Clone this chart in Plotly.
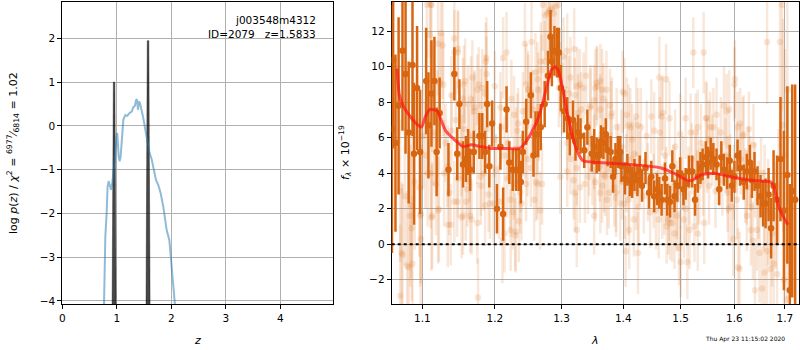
import plotly.graph_objects as go

# ---------------- left panel: p(z) ----------------
pz_z = [0.765,0.789,0.813,0.83,0.85,0.875,0.893,0.917,0.936,0.966,0.997,1.009,1.034,1.052,1.07,1.095,
        1.119,1.156,1.193,1.23,1.272,1.303,1.333,1.352,1.37,1.388,1.407,1.425,1.456,1.486,1.523,1.56,
        1.596,1.639,1.682,1.719,1.761,1.804,1.853,1.914,1.963,2.0,2.037,2.067]
pz_logp = [-4.1,-2.53,-2.0,-1.39,-1.26,-1.39,-1.46,-1.30,-1.08,-0.70,-0.18,-0.17,-0.70,-0.81,-0.70,-0.17,
           0.14,0.25,0.23,0.29,0.33,0.43,0.46,0.59,0.61,0.37,0.56,0.52,0.37,0.18,-0.09,-0.36,
           -0.59,-0.76,-1.0,-1.24,-1.35,-1.54,-1.85,-2.38,-2.61,-3.14,-3.60,-4.1]

spike1_z = [0.913, 0.936, 0.964, 0.987]
spike1_logp = [-4.1, 1.0, 1.0, -4.1]
spike2_z = [1.535, 1.558, 1.587, 1.610]
spike2_logp = [-4.1, 1.95, 1.95, -4.1]

left_xticks = [0, 1, 2, 3, 4]
left_yticks = [-4, -3, -2, -1, 0, 1, 2]

# ---------------- right panel: spectrum ----------------
dark_lam = [1.0605,1.062,1.065,1.069,1.074,1.078,1.082,1.087,1.089,1.093,
            1.097,1.105,1.108,1.112,1.116,1.119,1.123,1.135,1.143,1.147,
            1.150,1.155,1.159,1.162,1.165,1.170,1.178,1.182,1.186,1.189,
            1.192,1.196,1.203,1.208,1.212,1.217,1.221,1.226,1.231,1.235,
            1.238,1.241,1.246,1.253,1.257,1.260,1.264,1.268,1.274,1.279,
            1.283,1.285,1.289,1.293,1.296,1.299,1.304,1.309,1.313,1.318,
            1.322,1.326,1.330,1.336,1.341,1.348,1.352,1.356,1.360,1.363,
            1.367,1.371,1.374,1.379,1.383,1.387,1.391,1.395,1.397,1.403,
            1.407,1.411,1.415,1.419,1.424,1.428,1.432,1.438,1.444,1.448,
            1.453,1.458,1.462,1.466,1.472,1.476,1.481,1.485,1.489,1.494,
            1.499,1.505,1.509,1.515,1.521,1.526,1.531,1.536,1.540,1.546,
            1.550,1.555,1.560,1.566,1.571,1.575,1.580,1.586,1.591,1.595,
            1.600,1.606,1.611,1.618,1.624,1.630,1.634,1.639,1.645,1.651,
            1.656,1.661,1.667,1.672,1.677,1.684,1.691,1.698,1.705,1.710,
            1.715,1.721]
dark_flux = [6.5,10.4,5.7,7.8,10.9,9.6,6.3,10.1,5.1,8.8,
             5.2,9.2,6.7,8.5,9.2,5.2,7.4,4.2,9.6,5.1,
             7.9,4.5,4.8,5.2,4.2,5.2,6.1,6.1,5.2,7.9,
             4.4,6.8,2.0,5.5,1.7,7.6,4.6,4.2,4.2,4.2,
             3.5,5.2,6.9,8.4,5.0,6.2,6.2,6.6,7.9,9.5,
             11.7,10.3,10.9,10.8,10.8,8.8,7.5,7.1,6.1,7.0,
             5.8,6.3,6.1,5.3,6.6,5.1,5.5,5.0,5.0,5.8,
             5.7,6.2,5.3,5.2,3.8,4.8,5.2,5.2,4.4,3.7,
             4.2,3.6,3.5,3.9,3.6,4.1,3.3,4.3,2.9,3.8,
             2.7,3.1,2.9,2.5,3.7,2.5,2.4,4.4,2.7,3.3,
             4.0,3.1,3.4,4.1,4.1,2.5,3.8,4.3,4.5,4.9,
             4.6,5.1,4.8,4.5,3.1,4.9,4.2,4.0,4.7,3.3,
             3.8,5.0,4.3,3.5,4.1,4.6,3.6,4.1,3.3,2.7,
             2.3,2.3,2.8,0.9,3.3,2.5,4.8,1.9,3.9,-2.6,
             3.0,2.5]
dark_err = [7.0,5.0,5.0,5.0,4.5,4.5,4.0,4.0,4.0,3.5,
            3.5,3.0,3.0,3.0,2.5,2.5,2.0,1.5,1.5,1.5,
            1.4,1.3,1.3,1.3,1.2,1.2,1.3,1.3,1.2,1.3,
            1.2,1.3,1.4,1.3,1.5,1.3,1.2,1.2,1.2,1.2,
            1.2,1.2,1.3,1.3,1.2,1.3,1.3,1.3,1.3,1.4,
            1.5,1.4,1.4,1.4,1.4,1.3,1.2,1.2,1.1,1.1,
            1.1,1.0,1.0,1.0,1.0,1.0,1.0,1.0,0.9,0.9,
            0.9,0.9,0.9,0.9,0.9,0.9,0.9,0.9,0.9,0.9,
            0.9,0.9,0.9,0.9,0.9,0.9,0.9,0.9,0.9,0.9,
            0.9,0.9,0.9,0.9,0.9,0.9,0.9,0.9,0.9,0.9,
            0.9,0.9,0.9,0.9,0.9,0.9,0.9,0.9,0.9,0.9,
            0.9,0.9,0.9,0.9,0.9,0.9,0.9,0.9,0.9,0.9,
            0.9,0.9,1.0,1.0,1.0,1.0,1.0,1.1,1.1,1.2,
            1.3,1.4,1.5,1.7,2.0,2.5,3.5,4.5,5.0,6.0,
            6.0,6.5]

light_lam = [1.073,1.080,1.087,1.071,1.086,1.098,1.111,1.125,1.121,1.127,
             1.143,1.148,1.110,1.128,1.113,1.139,1.158,1.155,1.177,1.182,
             1.188,1.180,1.186,1.166,1.171,1.147,1.138,1.155,1.165,1.159,
             1.175,1.176,1.161,1.136,1.122,1.113,1.097,1.085,1.077,1.084,
             1.090,1.096,1.104,1.111,1.118,1.129,1.134,1.148,1.164,1.180,
             1.186,1.193,1.198,1.206,1.211,1.217,1.224,1.228,1.226,1.223,
             1.230,1.235,1.239,1.241,1.244,1.246,1.249,1.254,1.256,1.261,
             1.263,1.265,1.270,1.267,1.260,1.264,1.269,1.274,1.278,1.281,
             1.285,1.288,1.291,1.295,1.298,1.303,1.307,1.312,1.320,1.325,
             1.331,1.335,1.339,1.344,1.346,1.352,1.357,1.362,1.367,1.372,
             1.378,1.381,1.388,1.395,1.399,1.402,1.406,1.412,1.419,1.425,
             1.430,1.440,1.448,1.453,1.462,1.463,1.468,1.472,1.478,1.481,
             1.485,1.489,1.497,1.506,1.509,1.512,1.518,1.525,1.531,1.537,
             1.542,1.546,1.554,1.560,1.566,1.574,1.580,1.585,1.589,1.594,
             1.598,1.601,1.606,1.610,1.618,1.624,1.631,1.636,1.644,1.654,
             1.658,1.664,1.671,1.677,1.684,1.690,1.694,1.698,1.704,1.705,
             1.189,1.199,1.209,1.214,1.219,1.231,1.234,1.238,1.248,1.131,
             1.139,1.145,1.152,1.157,1.163,1.169,1.175,1.184,1.101,1.107,
             1.115,1.120,1.309,1.314,1.319,1.324,1.329,1.337,1.342,1.349,
             1.354,1.361,1.365,1.370,1.376,1.380,1.385,1.392,1.398,1.405,
             1.409,1.415,1.422,1.426,1.435,1.442,1.446,1.452,1.456,1.460,
             1.467,1.474,1.479,1.487,1.493,1.500,1.504,1.514,1.520,1.527,
             1.534,1.541,1.548,1.552,1.558,1.564,1.569,1.577,1.583,1.587,
             1.592,1.599,1.605,1.612,1.621,1.627,1.632,1.640,1.647,1.652,
             1.659,1.666,1.674,1.681,1.687,1.696,1.700]
light_flux = [-0.5,-1.2,-1.1,-2.9,0.9,1.7,13.5,11.9,11.3,11.2,
              11.6,11.0,11.8,9.0,8.2,8.4,9.2,8.2,9.0,8.8,
              10.5,7.8,8.5,8.2,7.5,2.4,1.1,1.6,1.6,2.4,
              1.2,-3.0,3.1,2.9,2.0,1.6,1.6,2.2,2.7,1.6,
              3.5,3.2,5.0,4.0,3.4,4.0,4.4,3.7,3.5,3.8,
              2.2,2.3,2.3,2.4,0.2,10.8,8.2,3.4,1.8,0.8,
              0.7,1.3,2.3,7.5,5.7,9.0,8.7,11.4,6.6,3.5,
              5.9,6.8,3.4,1.9,9.7,8.7,9.8,10.3,13.0,13.1,
              13.3,13.0,13.4,13.5,9.3,10.6,8.7,8.5,11.0,8.9,
              7.6,8.8,9.5,4.8,7.8,8.1,8.9,9.2,8.2,8.7,
              7.8,7.4,2.6,2.3,8.6,8.5,7.3,6.6,5.1,6.7,
              6.6,6.1,7.2,6.4,9.4,6.3,7.4,5.0,1.4,1.2,
              1.2,0.6,-0.2,1.4,2.0,-1.0,6.3,1.0,0.6,5.7,
              10.8,7.1,6.6,6.6,7.3,6.3,7.8,7.5,2.0,2.1,
              0.3,9.3,6.6,-1.4,6.2,1.6,4.0,0.2,0.8,-2.5,
              1.9,-0.4,-1.4,-1.1,-1.7,11.4,13.5,-2.0,-3.1,8.7,
              6.5,5.9,6.6,5.0,5.7,5.4,6.8,4.0,4.8,5.7,
              6.4,7.0,5.7,6.5,5.6,6.1,5.4,4.0,6.1,4.0,
              6.3,6.8,5.7,4.8,3.6,4.3,3.2,3.4,3.8,4.2,
              3.5,4.4,3.3,3.8,2.9,4.2,3.2,4.8,3.5,4.0,
              2.5,4.8,3.0,2.1,2.7,3.5,1.8,3.0,1.9,4.0,
              2.4,3.3,2.2,3.5,2.5,2.9,4.0,3.3,4.8,4.0,
              3.3,3.6,5.0,3.3,5.3,3.0,4.4,3.6,5.0,2.9,
              4.2,3.5,2.5,4.8,3.3,4.4,2.1,3.6,2.5,4.0,
              3.3,1.8,0.6,1.6,3.3,6.7,5.0]
light_err = [4.0,4.2,3.8,4.0,4.1,3.9,3.0,3.1,2.9,3.0,
             2.3,2.2,3.0,2.9,3.0,2.2,2.4,2.3,2.1,2.2,
             2.3,2.1,2.2,2.4,2.2,2.0,2.3,2.2,2.1,2.2,
             2.3,2.2,2.1,2.4,3.0,3.0,4.0,4.1,3.9,4.0,
             3.8,3.9,3.0,3.1,2.9,3.0,2.3,2.2,2.1,2.2,
             2.3,2.0,2.2,2.1,2.4,2.3,2.2,2.0,2.1,2.3,
             2.2,2.3,2.1,2.2,2.0,2.3,2.2,2.4,2.1,2.2,
             2.0,2.1,2.3,2.2,2.2,2.1,2.0,2.3,2.4,2.2,
             2.5,2.3,2.4,2.6,2.1,2.2,2.0,2.1,2.3,2.2,
             2.1,2.0,2.2,2.1,2.3,2.0,2.2,2.1,2.0,2.2,
             2.1,2.0,2.2,2.1,2.3,2.0,2.1,2.2,2.0,2.1,
             2.2,2.0,2.1,2.2,2.3,2.0,2.1,2.2,2.0,2.1,
             2.2,2.0,2.1,2.2,2.0,2.1,2.2,2.0,2.1,2.2,
             2.3,2.1,2.0,2.2,2.1,2.0,2.2,2.1,2.0,2.2,
             2.1,2.2,2.0,2.1,2.2,2.0,2.1,2.2,2.3,2.4,
             2.3,3.0,3.0,3.1,3.2,6.0,6.0,6.0,6.0,6.0,
             2.2,2.1,2.0,2.2,2.1,2.3,2.0,2.2,2.1,2.2,
             2.1,2.2,2.0,2.3,2.1,2.2,2.0,2.1,3.0,3.0,
             3.0,3.0,2.1,2.0,2.2,2.1,2.0,2.2,2.1,2.0,
             2.2,2.0,2.1,2.2,2.0,2.1,2.2,2.0,2.1,2.2,
             2.0,2.1,2.2,2.0,2.1,2.2,2.0,2.1,2.2,2.0,
             2.1,2.2,2.0,2.1,2.2,2.0,2.1,2.2,2.0,2.1,
             2.2,2.0,2.1,2.2,2.0,2.1,2.2,2.0,2.1,2.2,
             2.0,2.1,2.2,2.0,2.1,2.2,2.0,2.1,2.2,2.0,
             2.3,3.0,3.0,3.0,3.2,6.0,6.0]

# second group of faint points (other exposure)
light2_lam = [1.354,1.356,1.365,1.362,1.346,1.352,1.362,1.373,1.352,1.372,
              1.380,1.389,1.397,1.409,1.415,1.422,1.428,1.402,1.410,1.418,
              1.425,1.404,1.388,1.368,1.474,1.466,1.480,1.509,1.523,1.527,
              1.531,1.548,1.552,1.490,1.499,1.471,1.461,1.475,1.500,1.516,
              1.530,1.543,1.493,1.590,1.600,1.611,1.616,1.628,1.637,1.604,
              1.587,1.624,1.632,1.607,1.640,1.649,1.659,1.664,1.148,1.156,
              1.168,1.175,1.187,1.188,1.212,1.200,1.162,1.171,1.208,1.228,
              1.233,1.153,1.164,1.180,1.191,1.202,1.218,1.223,1.153,1.167,
              1.214,1.230,1.244,1.271,1.275,1.282,1.268,1.263,1.249,1.256,
              1.309,1.314,1.329,1.296,1.321,1.301,1.326,1.246,1.258,1.263,
              1.253,1.298,1.309,1.321,1.324,1.237,1.106,1.112,1.123,1.143,
              1.071,1.082,1.074,1.098,1.121,1.112,1.134,1.143]
light2_flux = [8.8,9.1,8.7,7.6,7.7,5.2,2.9,2.5,1.6,6.1,
               7.2,6.6,5.5,6.7,5.9,7.2,4.3,2.3,0.8,1.4,
               -0.5,-0.4,2.9,3.9,9.3,7.2,7.1,7.1,10.8,6.3,
               6.6,7.1,5.9,5.5,6.2,2.5,1.4,1.0,-1.0,0.8,
               3.2,1.2,1.6,7.6,9.0,6.8,6.1,6.5,5.6,4.9,
               3.9,3.2,0.8,-1.3,-2.6,-0.5,-1.6,11.4,10.8,9.0,
               9.4,8.7,10.3,9.6,10.5,8.9,7.9,7.7,7.7,7.3,
               6.4,5.0,4.4,3.3,2.8,4.2,3.7,2.5,1.5,1.4,
               0.6,0.5,11.3,13.5,12.9,13.2,10.3,9.3,8.7,7.6,
               10.9,9.4,9.0,8.8,8.4,8.2,7.4,3.4,2.5,3.4,
               4.3,3.8,4.1,2.9,0.8,2.9,13.5,13.5,9.1,10.8,
               3.0,-1.3,-0.6,0.3,1.9,1.5,1.1,2.4]
light2_err = [2.2,2.1,2.3,2.0,2.2,2.1,2.3,2.0,2.2,2.1,
              2.0,2.2,2.1,2.3,2.0,2.2,2.1,2.0,2.2,2.1,
              2.3,2.0,2.2,2.1,2.0,2.2,2.1,2.3,2.0,2.2,
              2.1,2.0,2.2,2.1,2.3,2.0,2.2,2.1,2.0,2.2,
              2.1,2.3,2.0,2.2,2.1,2.0,2.2,2.1,2.3,2.0,
              2.2,2.1,2.0,2.2,2.6,2.8,3.0,3.5,2.3,2.2,
              2.1,2.0,2.2,2.1,2.3,2.0,2.2,2.1,2.0,2.2,
              2.1,2.3,2.0,2.2,2.1,2.0,2.2,2.1,2.3,2.0,
              2.2,2.1,2.3,2.6,2.5,2.4,2.2,2.1,2.0,2.2,
              2.1,2.3,2.0,2.2,2.1,2.0,2.2,2.1,2.3,2.0,
              2.2,2.1,2.0,2.2,2.1,2.3,3.0,3.0,2.8,2.4,
              4.0,4.0,4.0,3.8,3.0,3.0,2.4,2.3]

model_lam = [1.067,1.070,1.075,1.084,1.092,1.099,1.104,1.110,1.120,1.125,1.131,1.143,1.155,1.166,
             1.180,1.194,1.212,1.236,1.244,1.254,1.266,1.276,1.284,1.290,1.295,1.301,1.309,1.320,
             1.328,1.334,1.358,1.412,1.465,1.488,1.512,1.521,1.537,1.561,1.592,1.631,1.671,1.677,
             1.690,1.706]
model_flux = [9.9,8.4,7.8,7.2,6.8,6.6,7.2,7.6,7.5,7.0,6.4,5.9,5.5,5.6,
              5.5,5.4,5.4,5.4,5.7,6.3,7.3,8.7,9.8,10.0,9.8,8.9,7.4,5.7,
              5.0,4.7,4.6,4.5,4.3,4.0,3.6,3.6,3.9,4.0,3.8,3.6,3.5,3.3,
              1.9,1.1]

zero_lam = [1.0602, 1.7296]
zero_flux = [0, 0]

right_xticks = [1.1, 1.2, 1.3, 1.4, 1.5, 1.6, 1.7]
right_yticks = [-2, 0, 2, 4, 6, 8, 10, 12]

ORANGE = "rgb(216,102,16)"
ORANGE_LIGHT = "rgba(222,110,30,0.17)"
FONT = "DejaVu Sans"

fig = go.Figure()

# left panel traces
for sz, sp in ((spike1_z, spike1_logp), (spike2_z, spike2_logp)):
    fig.add_trace(go.Scatter(x=sz, y=sp, mode="lines", fill="toself",
                             fillcolor="rgba(0,0,0,0.72)", line=dict(width=0.5, color="rgba(0,0,0,0.72)"),
                             xaxis="x", yaxis="y", showlegend=False, hoverinfo="skip"))
fig.add_trace(go.Scatter(x=pz_z, y=pz_logp, mode="lines",
                         line=dict(color="rgba(31,119,180,0.5)", width=2),
                         xaxis="x", yaxis="y", showlegend=False))

# right panel traces
for lx, ly, le in ((light_lam, light_flux, light_err), (light2_lam, light2_flux, light2_err)):
    fig.add_trace(go.Scatter(x=lx, y=ly, mode="markers",
                             marker=dict(color=ORANGE_LIGHT, size=6.5, line=dict(width=0)),
                             error_y=dict(type="data", array=le, visible=True,
                                          color=ORANGE_LIGHT, thickness=2.5, width=0),
                             xaxis="x2", yaxis="y2", showlegend=False))
fig.add_trace(go.Scatter(x=dark_lam, y=dark_flux, mode="markers",
                         marker=dict(color=ORANGE, size=6.5, line=dict(width=0)),
                         error_y=dict(type="data", array=dark_err, visible=True,
                                      color=ORANGE, thickness=2.5, width=0),
                         xaxis="x2", yaxis="y2", showlegend=False))
fig.add_trace(go.Scatter(x=model_lam, y=model_flux, mode="lines",
                         line=dict(color="rgba(255,20,20,0.7)", width=3, shape="spline", smoothing=0.5),
                         xaxis="x2", yaxis="y2", showlegend=False))
fig.add_trace(go.Scatter(x=zero_lam, y=zero_flux, mode="lines",
                         line=dict(color="black", width=2, dash="dot"),
                         xaxis="x2", yaxis="y2", showlegend=False))

W, H = 800, 350
def px(x): return x / W
def py(y): return 1 - y / H

axis_common = dict(showgrid=True, gridcolor="rgb(176,176,176)", gridwidth=1, zeroline=False,
                   showline=True, linecolor="black", linewidth=1, mirror=True,
                   ticks="outside", ticklen=4, tickcolor="black", layer="below traces",
                   tickfont=dict(family=FONT, size=10.5, color="black"))

fig.update_layout(
    width=W, height=H, margin=dict(l=0, r=0, t=0, b=0, autoexpand=False),
    paper_bgcolor="white", plot_bgcolor="white",
    font=dict(family=FONT, color="black"),
    xaxis=dict(domain=[px(62.3), px(333.3)], range=[0, 4.97], tickvals=left_xticks,
               anchor="y", **axis_common),
    yaxis=dict(domain=[py(304), py(1.7)], range=[-4.07, 2.84], tickvals=left_yticks,
               anchor="x", **axis_common),
    xaxis2=dict(domain=[px(391.7), px(799.3)], type="log",
                range=[0.025385, 0.237948], tickvals=right_xticks,
                ticktext=[f"{v:.1f}" for v in right_xticks], anchor="y2", **axis_common),
    yaxis2=dict(domain=[py(304), py(1.7)], range=[-3.37, 13.67], tickvals=right_yticks,
                anchor="x2", **axis_common),
)

ann = []
ann.append(dict(x=px(318), y=py(20), xref="paper", yref="paper", xanchor="right", yanchor="middle",
                text="j003548m4312", showarrow=False, font=dict(family=FONT, size=10.5)))
ann.append(dict(x=px(318), y=py(34.5), xref="paper", yref="paper", xanchor="right", yanchor="middle",
                text="ID=2079   z=1.5833", showarrow=False, font=dict(family=FONT, size=10.5)))
ann.append(dict(x=px(13), y=py(153), xref="paper", yref="paper", xanchor="center", yanchor="middle",
                textangle=-90, showarrow=False, font=dict(family=FONT, size=11),
                text="log <i>p</i>(<i>z</i>) / <i>χ</i><sup>2</sup> = <sup>6977</sup>⁄<sub>6814</sub> = 1.02"))
ann.append(dict(x=px(345), y=py(153), xref="paper", yref="paper", xanchor="center", yanchor="middle",
                textangle=-90, showarrow=False, font=dict(family=FONT, size=11),
                text="<i>f</i><sub><i>λ</i></sub> × 10<sup>−19</sup>"))
ann.append(dict(x=px(197.5), y=py(340), xref="paper", yref="paper", xanchor="center", yanchor="middle",
                text="<i>z</i>", showarrow=False, font=dict(family=FONT, size=11)))
ann.append(dict(x=px(595), y=py(340), xref="paper", yref="paper", xanchor="center", yanchor="middle",
                text="<i>λ</i>", showarrow=False, font=dict(family=FONT, size=11)))
ann.append(dict(x=px(787), y=py(339), xref="paper", yref="paper", xanchor="right", yanchor="middle",
                text="Thu Apr 23 11:15:02 2020", showarrow=False, font=dict(family=FONT, size=6)))
fig.update_layout(annotations=ann)

fig.write_html("out.html", config={"displayModeBar": False},
               post_script="document.body.style.margin='0px';document.body.style.overflow='hidden';")
